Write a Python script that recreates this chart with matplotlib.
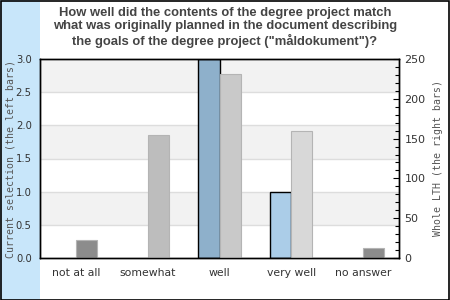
import matplotlib
matplotlib.use('Agg')
import matplotlib.pyplot as plt
from matplotlib.patches import Rectangle
from matplotlib.ticker import MultipleLocator, FormatStrFormatter

categories = ['not at all', 'somewhat', 'well', 'very well', 'no answer']
selection = [0, 0, 3, 1, 0]
whole_lth = [23, 155, 231, 160, 12]

selection_colors = ['#8eb0cb', '#8eb0cb', '#8eb0cb', '#abcde8', '#8eb0cb']
lth_colors = ['#8c8c8c', '#bdbdbd', '#c9c9c9', '#d8d8d8', '#8c8c8c']

title = ('How well did the contents of the degree project match\n'
         'what was originally planned in the document describing\n'
         'the goals of the degree project ("måldokument")?')

fig = plt.figure(figsize=(4.5, 3), dpi=100)
fig.patch.set_facecolor('white')

# light blue strip behind the left axis label, and the outer border
fig.add_artist(Rectangle((0, 0), 40 / 450, 1, transform=fig.transFigure,
                         facecolor='#c8e6fa', edgecolor='none', zorder=0))
fig.add_artist(Rectangle((0.5 / 450, 0.5 / 300), 448.5 / 450, 298.5 / 300,
                         transform=fig.transFigure, facecolor='none',
                         edgecolor='black', linewidth=1.2, zorder=10))

ax = fig.add_axes([40 / 450, 42 / 300, 359 / 450, 199 / 300])
ax2 = ax.twinx()

x = range(len(categories))
bw = 0.293

ax.set_ylim(0, 3)
ax.set_xlim(-0.5, len(categories) - 0.5)
for lo in [0.5, 1.5, 2.5]:
    ax.axhspan(lo, lo + 0.5, color='#f2f2f2', zorder=0, linewidth=0)
for y in [0.5, 1.0, 1.5, 2.0, 2.5]:
    ax.axhline(y, color='#dddddd', linewidth=1, zorder=0.5)

# empty bars get no outline
sel_edges = ['black' if v > 0 else 'none' for v in selection]
lth_edges = ['#b4b4b4' if v > 0 else 'none' for v in whole_lth]

ax.bar(x, selection, width=-bw, align='edge', color=selection_colors,
       edgecolor=sel_edges, linewidth=1, zorder=2)
ax2.bar(x, whole_lth, width=bw, align='edge', color=lth_colors,
        edgecolor=lth_edges, linewidth=0.8, zorder=2)
ax2.set_ylim(0, 250)

ax.set_xticks(list(x))
ax.set_xticklabels(categories, fontsize=7.8, color='#333333')
ax.tick_params(axis='x', length=0, pad=7)
ax.yaxis.set_major_locator(MultipleLocator(0.5))
ax.yaxis.set_major_formatter(FormatStrFormatter('%.1f'))
ax.tick_params(axis='y', length=0, pad=6, labelsize=7.2, labelcolor='#333333')

ax2.yaxis.set_major_locator(MultipleLocator(50))
ax2.yaxis.set_minor_locator(MultipleLocator(10))
ax2.tick_params(axis='y', which='major', direction='in', length=4,
                width=0.8, pad=4, labelsize=8, labelcolor='#333333')
ax2.tick_params(axis='y', which='minor', direction='in', length=3, width=0.8)

for a in (ax, ax2):
    for s in a.spines.values():
        s.set_color('black')
        s.set_linewidth(1)

ax.set_ylabel('Current selection (the left bars)', family='DejaVu Sans Mono',
              fontsize=7.1, color='#555555')
ax.yaxis.set_label_coords(-0.068, 0.5)
ax2.set_ylabel('Whole LTH (the right bars)', family='DejaVu Sans Mono',
               fontsize=7.1, color='#555555', rotation=90, labelpad=5)

fig.text(0.5, 1 - 7 / 300, title, ha='center', va='top', fontsize=9.4,
         fontweight='bold', family='Liberation Sans', color='#444444',
         linespacing=1.15)

fig.savefig('out.png', dpi=100)
